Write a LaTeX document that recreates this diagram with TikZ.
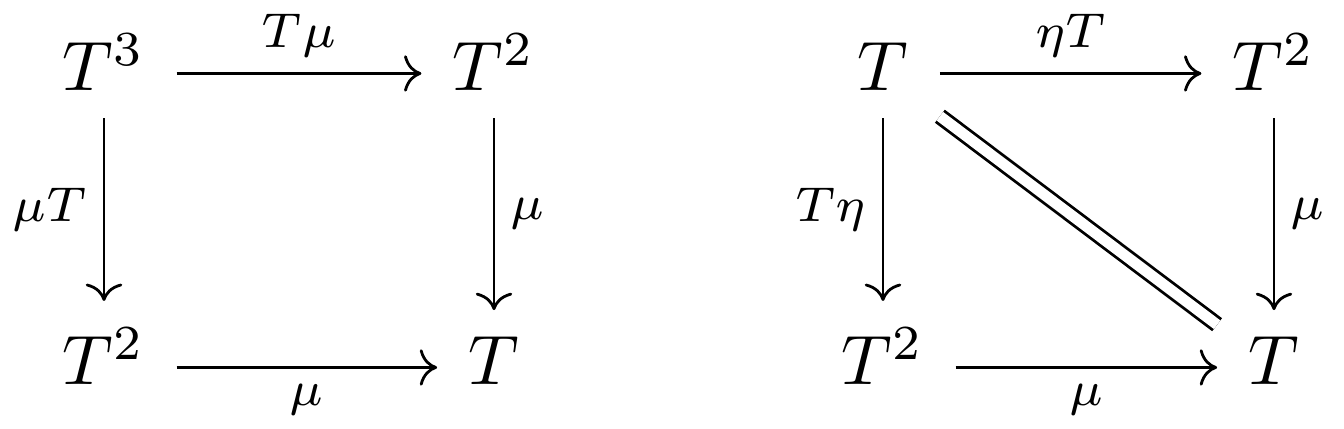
\documentclass[tikz,border=0pt]{standalone}
\usetikzlibrary{cd}
\begin{document}
\begin{tikzpicture}[x=0.142857pt, y=-0.142857pt,
  obj/.style={shape=asymmetrical rectangle, inner xsep=1ex, inner ysep=0.85ex},
  mor/.style={line width=0.4pt, -{cm to}},
  eqline/.style={line width=0.4pt, double, double equal sign distance},
  lbl/.style={auto, inner sep=0.5ex}]
\useasboundingbox (0,0) rectangle (1344,429);
% left square
\node[obj] (A) at (104,73.5) {$T^3$};
\node[obj] (B) at (494,73.5) {$T^2$};
\node[obj] (C) at (104,367.5) {$T^2$};
\node[obj] (D) at (494,367.5) {$T$};
\draw[mor] (A) -- node[lbl] {$\scriptstyle T\mu$} (B);
\draw[mor] (A) -- node[lbl,swap] {$\scriptstyle \mu T$} (C);
\draw[mor] (B) -- node[lbl] {$\scriptstyle \mu$} (D);
\draw[mor] (C) -- node[lbl,swap] {$\scriptstyle \mu$} (D);
% right square
\node[obj] (E) at (883,73.5) {$T$};
\node[obj] (F) at (1274,73.5) {$T^2$};
\node[obj] (G) at (883,367.5) {$T^2$};
\node[obj] (H) at (1274,367.5) {$T$};
\draw[mor] (E) -- node[lbl] {$\scriptstyle \eta T$} (F);
\draw[mor] (E) -- node[lbl,swap] {$\scriptstyle T\eta$} (G);
\draw[mor] (F) -- node[lbl] {$\scriptstyle \mu$} (H);
\draw[mor] (G) -- node[lbl,swap] {$\scriptstyle \mu$} (H);
\draw[eqline] (E) -- (H);
\end{tikzpicture}
\end{document}
